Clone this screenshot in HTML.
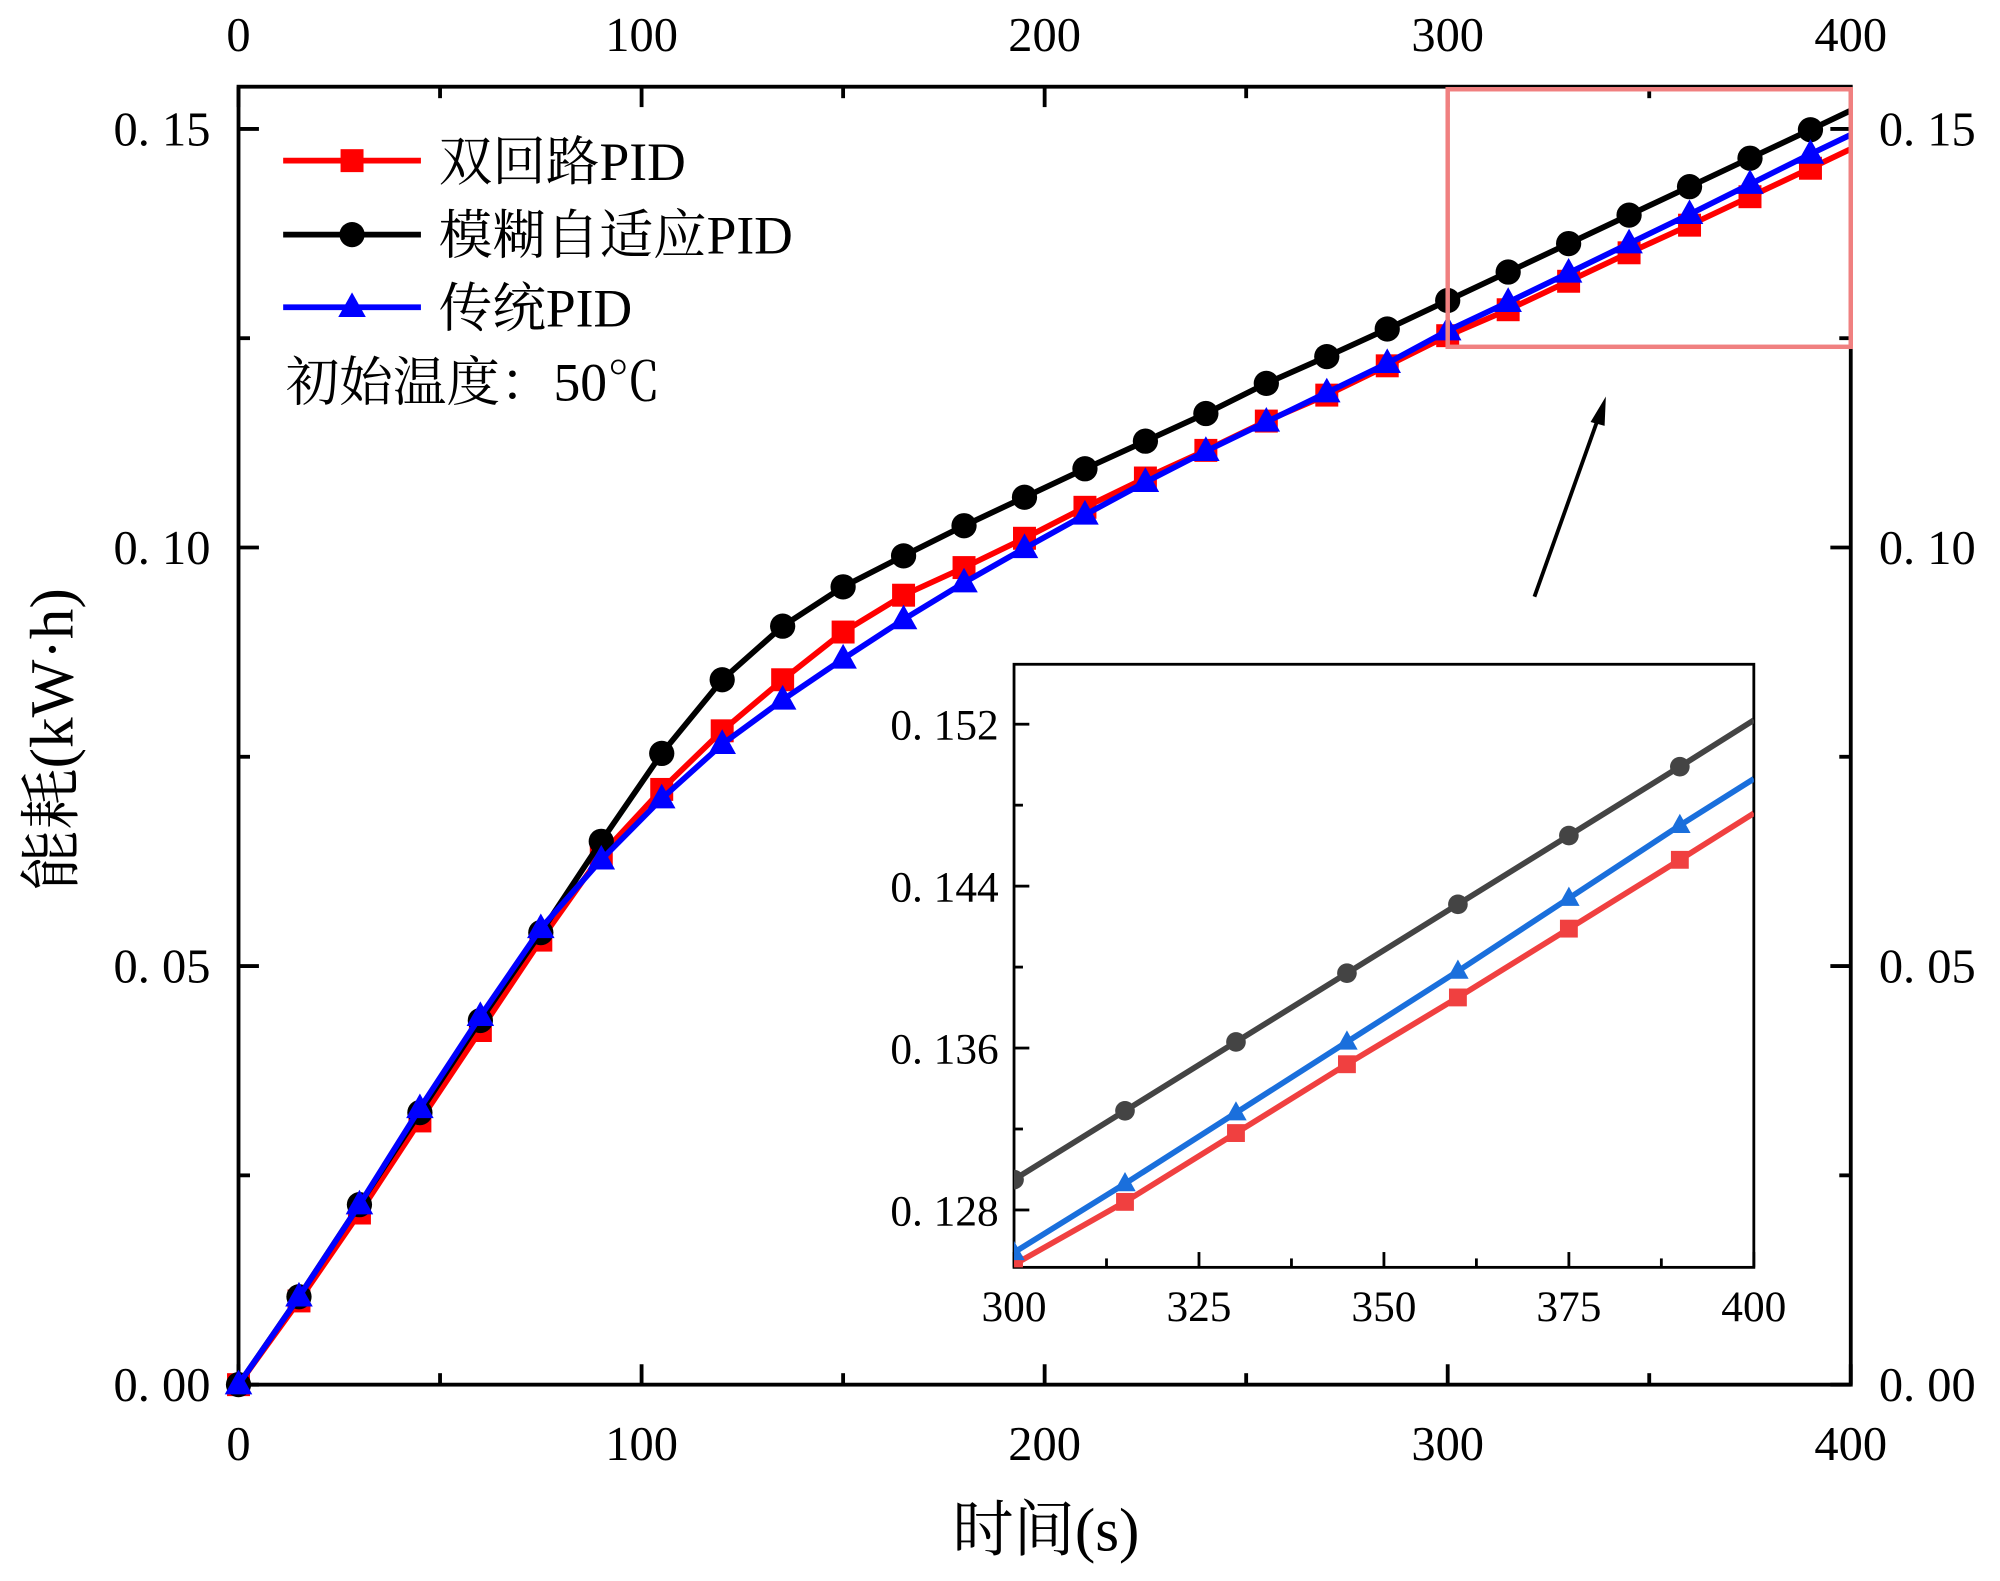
<!DOCTYPE html>
<html><head><meta charset="utf-8"><style>
html,body{margin:0;padding:0;background:#fff;}
svg{display:block;}
text{font-family:"Liberation Serif","Noto Serif CJK SC",serif;fill:#000;}
</style></head><body>
<svg id="chart" width="2000" height="1581" viewBox="0 0 1568 1240" preserveAspectRatio="none" xmlns="http://www.w3.org/2000/svg"></svg>
<script>
const timesMain = [0,15,30,45,60,75,90,105,120,135,150,165,180,195,210,225,240,255,270,285,300,315,330,345,360,375,390,400];
const redMain = [0,0.0100,0.0205,0.0315,0.0423,0.0531,0.0633,0.0711,0.0781,0.0842,0.0899,0.0943,0.0976,0.1011,0.1048,0.1083,0.1116,0.1151,0.1182,0.1217,0.1253,0.1284,0.1318,0.1352,0.1385,0.1419,0.1453,0.1476];
const blackMain = [0,0.0105,0.0215,0.0325,0.0435,0.0540,0.0649,0.0754,0.0842,0.0906,0.0953,0.0990,0.1026,0.1060,0.1094,0.1127,0.1160,0.1196,0.1228,0.1261,0.1295,0.1329,0.1363,0.1397,0.1431,0.1465,0.1499,0.1522];
const blueMain = [0,0.0105,0.0215,0.0330,0.0440,0.0545,0.0627,0.0700,0.0765,0.0818,0.0867,0.0914,0.0958,0.0999,0.1039,0.1078,0.1115,0.1150,0.1185,0.1220,0.1259,0.1293,0.1328,0.1363,0.1398,0.1434,0.1470,0.1493];
const xTicks = [0,100,200,300,400];
const yTicks = [0,0.05,0.10,0.15];
const yTickLabels = ["0. 00","0. 05","0. 10","0. 15"];
const insetXTicks = [300,325,350,375,400];
const insetYTicks = [0.128,0.136,0.144,0.152];
const insetYLabels = ["0. 128","0. 136","0. 144","0. 152"];

const NS="http://www.w3.org/2000/svg";
const svg=document.getElementById('chart');
function mk(tag,attrs,parent){const e=document.createElementNS(NS,tag);for(const k in attrs)e.setAttribute(k,attrs[k]);(parent||svg).appendChild(e);return e;}

const L=187,R=1451,T=68,B=1086;
const sx=v=>L+(v-0)/(400-0)*(R-L);
const sy=v=>1086-(v/0.05)*328.3;
const iL=795,iR=1375,iT=521,iB=994;
const isx=v=>iL+(v-300)/100*(iR-iL);
const isy=v=>949-(v-0.128)/0.008*127;

function marker(type,x,y,s,color,g){
  let m;
  if(type==='sq') m=mk('rect',{x:x-s,y:y-s,width:2*s,height:2*s,fill:color},g);
  else if(type==='ci') m=mk('circle',{cx:x,cy:y,r:s*1.1,fill:color},g);
  else m=mk('polygon',{points:`${x},${y-s*1.3} ${x-s*1.2},${y+s*0.85} ${x+s*1.2},${y+s*0.85}`,fill:color},g);
  
  
}
function series(xs,ys,fx,fy,color,type,s,w,name,filter){
  const g=mk('g',{});
  
  
  const pts=[];
  xs.forEach((x,i)=>{if(filter(x))pts.push([fx(x),fy(ys[i]),x]);});
  mk('polyline',{points:pts.map(p=>p[0]+','+p[1]).join(' '),fill:'none',stroke:color,'stroke-width':w,'stroke-linejoin':'round'},g);
  pts.forEach(p=>{if(p[2]%15===0)marker(type,p[0],p[1],s,color,g);});
}

const frame=mk('rect',{x:L,y:T,width:R-L,height:B-T,fill:'none',stroke:'#000','stroke-width':3});


for(let v=0;v<=400;v+=50){
  const len=v%100===0?16:9;const x=sx(v);
  mk('line',{x1:x,y1:B,x2:x,y2:B-len,stroke:'#000','stroke-width':3});
  mk('line',{x1:x,y1:T,x2:x,y2:T+len,stroke:'#000','stroke-width':3});
}
for(let k=0;k<=6;k++){
  const v=k*0.025;const len=k%2===0?16:9;const y=sy(v);
  mk('line',{x1:L,y1:y,x2:L+len,y2:y,stroke:'#000','stroke-width':3});
  mk('line',{x1:R,y1:y,x2:R-len,y2:y,stroke:'#000','stroke-width':3});
}
xTicks.forEach(v=>{
  let t=mk('text',{x:sx(v),y:1145,'font-size':38,'text-anchor':'middle'});t.textContent=v;
  
  t=mk('text',{x:sx(v),y:40,'font-size':38,'text-anchor':'middle'});t.textContent=v;
  
});
yTicks.forEach((v,i)=>{
  let t=mk('text',{x:165,y:sy(v)+13,'font-size':38,'text-anchor':'end'});t.textContent=yTickLabels[i];
  
  t=mk('text',{x:1473,y:sy(v)+13,'font-size':38,'text-anchor':'start'});t.textContent=yTickLabels[i];
  
});

series(timesMain,redMain,sx,sy,'#ff0000','sq',9,4.5,'series-dual-loop-pid',x=>x<=400);
series(timesMain,blackMain,sx,sy,'#000000','ci',9,4.5,'series-fuzzy-adaptive-pid',x=>x<=400);
series(timesMain,blueMain,sx,sy,'#0000ff','tr',9,4.5,'series-traditional-pid',x=>x<=400);

const zb=mk('rect',{x:1135,y:70,width:316,height:202,fill:'none',stroke:'#f08080','stroke-width':3.5});

const ar=mk('g',{});
mk('line',{x1:1203,y1:468,x2:1253,y2:328,stroke:'#000','stroke-width':3},ar);
mk('polygon',{points:'1259,311 1247,331 1258,334',fill:'#000'},ar);

const lg=mk('g',{});
[['双回路PID','#ff0000','sq',126],['模糊自适应PID','#000000','ci',184],['传统PID','#0000ff','tr',241]].forEach(e=>{
  const g=mk('g',{},lg);
  mk('line',{x1:222,y1:e[3],x2:330,y2:e[3],stroke:e[1],'stroke-width':4.5},g);
  marker(e[2],276,e[3],9,e[1],g);
  const t=mk('text',{x:344,y:e[3]+15,'font-size':42},g);t.textContent=e[0];
});
let ann=mk('text',{x:224,y:314,'font-size':42});ann.textContent='初始温度：50℃';


let xt=mk('text',{x:820,y:1216,'font-size':48,'text-anchor':'middle'});xt.textContent='时间(s)';

let yt=mk('text',{x:0,y:0,'font-size':48,'text-anchor':'middle',transform:'translate(57,580) rotate(-90)'});yt.textContent='能耗(kW·h)';


const ig=mk('g',{});
mk('rect',{x:iL,y:iT,width:iR-iL,height:iB-iT,fill:'#fff',stroke:'#000','stroke-width':2.2},ig);
const cp=mk('clipPath',{id:'ic'},ig);mk('rect',{x:iL,y:iT,width:iR-iL,height:iB-iT},cp);
for(let v=300;v<=400;v+=12.5){
  const len=(v-300)%25===0?12:7;
  mk('line',{x1:isx(v),y1:iB,x2:isx(v),y2:iB-len,stroke:'#000','stroke-width':2.2},ig);
}
for(let k=-1;k<=7;k++){
  const v=0.128+k*0.004;const y=isy(v);if(y<iT||y>iB)continue;
  const len=k%2===0?12:7;
  mk('line',{x1:iL,y1:y,x2:iL+len,y2:y,stroke:'#000','stroke-width':2.2},ig);
}
insetXTicks.forEach(v=>{const t=mk('text',{x:isx(v),y:1036,'font-size':34,'text-anchor':'middle'},ig);t.textContent=v;
  });
insetYTicks.forEach((v,i)=>{const t=mk('text',{x:783,y:isy(v)+12,'font-size':34,'text-anchor':'end'},ig);t.textContent=insetYLabels[i];
  });
const ic=mk('g',{'clip-path':'url(#ic)'},ig);
function iseries(ys,color,type,name){
  const g=mk('g',{},ic);
  const pts=[];timesMain.forEach((x,i)=>{if(x>=300)pts.push([isx(x),isy(ys[i]),x]);});
  mk('polyline',{points:pts.map(p=>p[0]+','+p[1]).join(' '),fill:'none',stroke:color,'stroke-width':4.5},g);
  pts.forEach(p=>{if(p[2]%15===0)marker(type,p[0],p[1],7,color,g);});
}
iseries(redMain,'#f04040','sq','inset-series-dual-loop-pid');
iseries(blackMain,'#444444','ci','inset-series-fuzzy-adaptive-pid');
iseries(blueMain,'#1a6fdc','tr','inset-series-traditional-pid');
</script>
</body></html>
